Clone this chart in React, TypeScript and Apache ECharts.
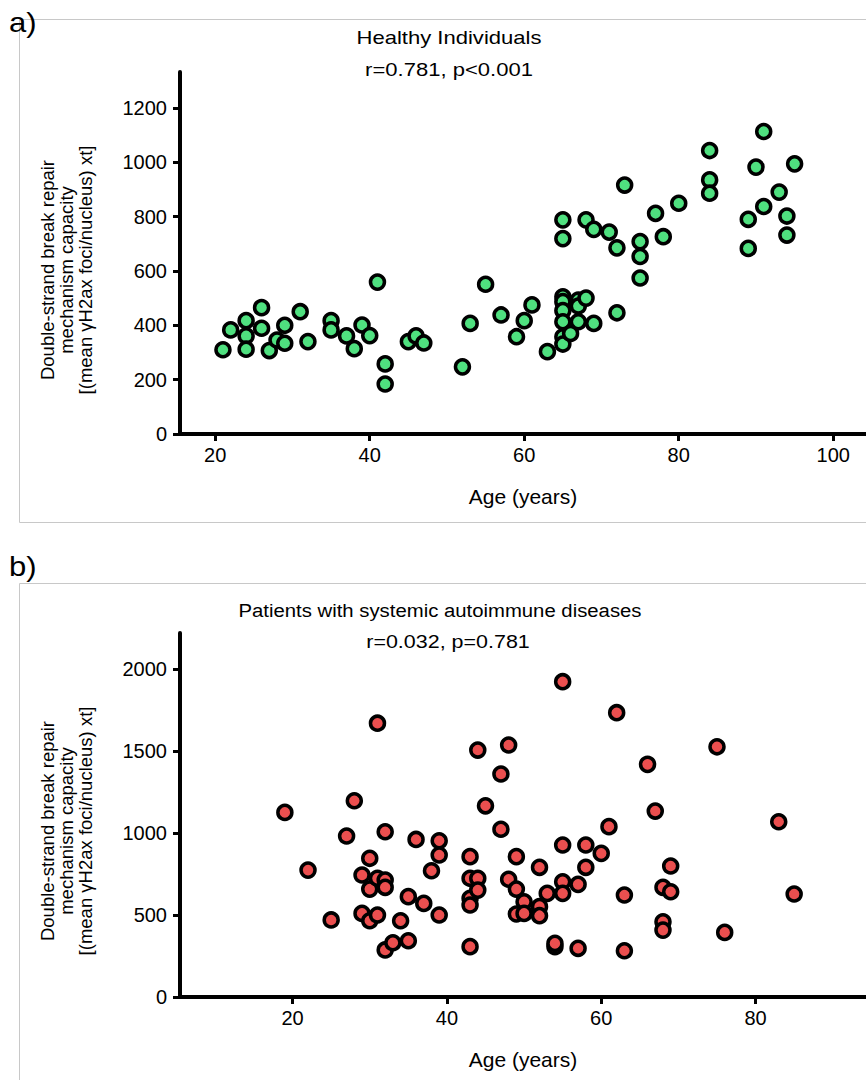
import React, { useEffect, useRef } from "react";
import * as echarts from "echarts";

// Panel a) Healthy individuals
const healthyAges = [
  21, 22, 24, 24, 24, 26, 26, 27, 28, 29, 29, 31, 32, 35, 35, 37, 38, 39, 40, 41,
  42, 42, 45, 46, 47, 52, 53, 55, 57, 59, 60, 61, 63,
  65, 65, 65, 65, 65, 65, 65, 65, 66, 67, 67, 67, 68, 68, 69, 69, 71, 72, 72, 73,
  75, 75, 75, 77, 78, 80, 84, 84, 84, 89, 89, 90, 91, 91, 93, 94, 94, 95,
];
const healthyRepair = [
  310, 383, 417, 361, 312, 465, 389, 307, 346, 400, 334, 450, 340, 417, 383, 361, 314, 401, 362, 559,
  258, 184, 340, 361, 335, 247, 407, 551, 438, 358, 417, 475, 303,
  788, 719, 505, 487, 454, 413, 358, 331, 370, 493, 471, 413, 500, 788, 407, 753, 743, 685, 446, 916,
  708, 653, 574, 812, 726, 849, 1043, 935, 886, 790, 683, 982, 1113, 837, 890, 802, 732, 994,
];

// Panel b) Patients with systemic autoimmune diseases
const patientAges = [
  19, 22, 25, 27, 28, 29, 29, 30, 30, 30, 31, 31, 31, 32, 32, 32, 32, 33, 34, 35, 35, 36, 37, 38,
  39, 39, 39, 43, 43, 43, 43, 43, 44, 44, 44, 45, 47, 47, 48, 48, 49, 49, 49, 50, 50,
  52, 52, 52, 53, 54, 54, 55, 55, 55, 55, 57, 57, 58, 58, 60, 61, 62, 63, 63, 66, 67,
  68, 68, 68, 69, 69, 75, 76, 83, 85,
];
const patientRepair = [
  1126, 774, 470, 982, 1197, 744, 510, 846, 658, 465, 1670, 724, 500, 1008, 713, 669, 287, 331, 465, 612, 343, 961, 571, 770,
  953, 866, 500, 856, 724, 602, 561, 307, 1506, 724, 652, 1166, 1360, 1023, 1537, 718, 856, 658, 506, 581, 510,
  791, 551, 496, 632, 307, 327, 1923, 927, 703, 632, 687, 297, 927, 791, 876, 1039, 1734, 622, 282, 1419, 1134,
  669, 459, 408, 799, 642, 1526, 394, 1069, 628,
];

const healthyAgeTicks = [20, 40, 60, 80, 100];
const patientAgeTicks = [20, 40, 60, 80];
const healthyYTicks = [0, 200, 400, 600, 800, 1000, 1200];
const patientYTicks = [0, 500, 1000, 1500, 2000];

const FONT = "'Liberation Sans', Arial, Helvetica, sans-serif";
const Y_NAME =
  "Double-strand break repair\nmechanism capacity\n[(mean \u03b3H2ax foci/nucleus) xt]";

const plain = (v: number) => String(v);

function makeXAxis(gridIndex: number, min: number, max: number, ticks: number[]) {
  return {
    type: "value" as const,
    gridIndex,
    min,
    max,
    name: "Age (years)",
    nameLocation: "middle" as const,
    nameGap: 52,
    nameTextStyle: { fontFamily: FONT, fontSize: 21, color: "#000" },
    axisLine: { show: true, onZero: false, lineStyle: { color: "#000", width: 4 } },
    axisTick: {
      show: true,
      length: 7,
      lineStyle: { color: "#000", width: 3 },
      customValues: ticks,
    },
    axisLabel: {
      fontFamily: FONT,
      fontSize: 20,
      color: "#000",
      margin: 11,
      formatter: plain,
      customValues: ticks,
    },
    splitLine: { show: false },
  };
}

function makeYAxis(gridIndex: number, max: number, ticks: number[]) {
  return {
    type: "value" as const,
    gridIndex,
    min: 0,
    max,
    axisLine: { show: true, onZero: false, lineStyle: { color: "#000", width: 4 } },
    axisTick: {
      show: true,
      length: 7,
      lineStyle: { color: "#000", width: 3 },
      customValues: ticks,
    },
    axisLabel: {
      fontFamily: FONT,
      fontSize: 20,
      color: "#000",
      margin: 13,
      formatter: plain,
      customValues: ticks,
    },
    splitLine: { show: false },
  };
}

export default function App() {
  const ref = useRef<HTMLDivElement>(null);

  useEffect(() => {
    if (!ref.current) return;
    const chart = echarts.init(ref.current, undefined, { renderer: "svg" });
    const healthyData = healthyAges.map((a, i) => [a, healthyRepair[i]]);
    const patientData = patientAges.map((a, i) => [a, patientRepair[i]]);

    const textStyle = (text: string, size: number, align = "center") => ({
      text,
      fontFamily: FONT,
      fontSize: size,
      fill: "#000",
      textAlign: align,
      textVerticalAlign: "middle",
    });
    const title = (text: string, x: number, y: number, sx = 1.16) => ({
      type: "text",
      x,
      y,
      scaleX: sx,
      style: textStyle(text, 19),
    });

    chart.setOption({
      animation: false,
      backgroundColor: "#fff",
      grid: [
        { left: 180, top: 72, width: 686, height: 362 },
        { left: 180, top: 633, width: 686, height: 364 },
      ],
      xAxis: [
        makeXAxis(0, 15.44, 104.24, healthyAgeTicks),
        makeXAxis(1, 5.41, 94.31, patientAgeTicks),
      ],
      yAxis: [makeYAxis(0, 1332, healthyYTicks), makeYAxis(1, 2220, patientYTicks)],
      series: [
        {
          type: "scatter",
          xAxisIndex: 0,
          yAxisIndex: 0,
          data: healthyData,
          symbol: "circle",
          symbolSize: 14,
          itemStyle: { color: "#4fe07f", borderColor: "#000", borderWidth: 3.5, opacity: 1 },
        },
        {
          type: "scatter",
          xAxisIndex: 1,
          yAxisIndex: 1,
          data: patientData,
          symbol: "circle",
          symbolSize: 14,
          itemStyle: { color: "#eb4f4f", borderColor: "#000", borderWidth: 3.5, opacity: 1 },
        },
      ],
      graphic: [
        {
          type: "rect",
          shape: { x: 19.5, y: 19.5, width: 880, height: 503 },
          style: { fill: "none", stroke: "#c8c8c8", lineWidth: 1 },
          z: -1,
        },
        {
          type: "rect",
          shape: { x: 19.5, y: 583.5, width: 880, height: 540 },
          style: { fill: "none", stroke: "#c8c8c8", lineWidth: 1 },
          z: -1,
        },
        { type: "text", x: 9, y: 23, scaleX: 1.15, style: textStyle("a)", 27, "left") },
        { type: "text", x: 9, y: 567, scaleX: 1.15, style: textStyle("b)", 27, "left") },
        title("Healthy Individuals", 449, 37),
        title("r=0.781, p<0.001", 449, 69),
        title("Patients with systemic autoimmune diseases", 440, 610, 1.07),
        title("r=0.032, p=0.781", 448, 641, 1.13),
        {
          type: "text",
          x: 66,
          y: 270,
          rotation: Math.PI / 2,
          style: { ...textStyle(Y_NAME, 18.5), lineHeight: 19 },
        },
        {
          type: "text",
          x: 66,
          y: 831,
          rotation: Math.PI / 2,
          style: { ...textStyle(Y_NAME, 18.5), lineHeight: 19 },
        },
      ],
    });
    return () => chart.dispose();
  }, []);

  return (
    <div
      ref={ref}
      style={{ position: "absolute", left: 0, top: 0, width: 866, height: 1080 }}
    />
  );
}
